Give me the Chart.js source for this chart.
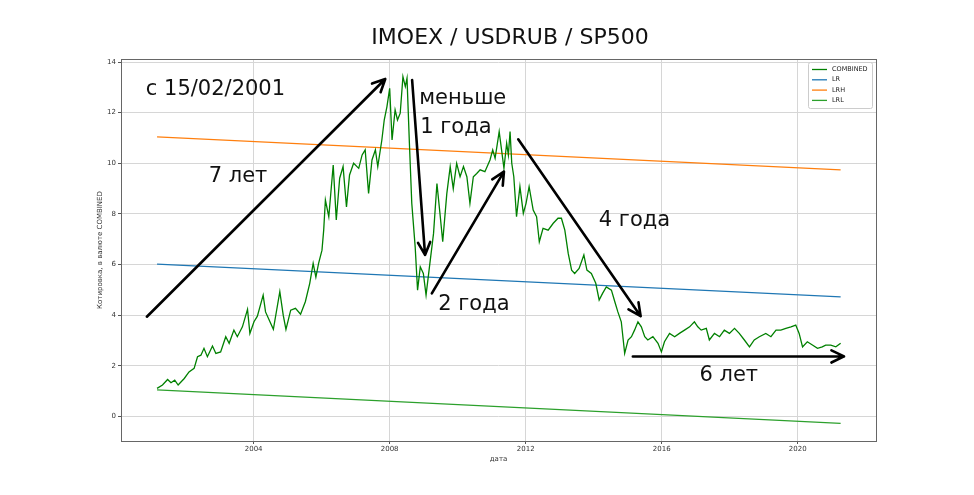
<!DOCTYPE html>
<html>
<head>
<meta charset="utf-8">
<script src="https://cdn.jsdelivr.net/npm/chart.js@4.4.0/dist/chart.umd.min.js"></script>
<style>
  html, body { margin: 0; padding: 0; background: #fff; }
</style>
</head>
<body>
<canvas id="grafico" width="974" height="495"></canvas>
<script>
// данные (годы в десятичном виде)
const combinedYears = [
  2001.16, 2001.32, 2001.47, 2001.57, 2001.68, 2001.78, 2001.96, 2002.10, 2002.25, 2002.35,
  2002.45, 2002.54, 2002.64, 2002.79, 2002.89, 2003.03, 2003.18, 2003.28, 2003.42, 2003.52,
  2003.67, 2003.82, 2003.89, 2004.01, 2004.11, 2004.28, 2004.35, 2004.48, 2004.58, 2004.77,
  2004.87, 2004.95, 2005.09, 2005.23, 2005.38, 2005.52, 2005.65, 2005.75, 2005.83, 2005.91,
  2006.01, 2006.06, 2006.11, 2006.21, 2006.34, 2006.43, 2006.53, 2006.63, 2006.73, 2006.82,
  2006.94, 2007.09, 2007.19, 2007.28, 2007.38, 2007.48, 2007.58, 2007.65, 2007.77, 2007.84,
  2007.92, 2008.00, 2008.07, 2008.16, 2008.23, 2008.31, 2008.39, 2008.46, 2008.51, 2008.58,
  2008.65, 2008.75, 2008.82, 2008.90, 2008.99, 2009.07, 2009.17, 2009.29, 2009.39, 2009.48,
  2009.56, 2009.68, 2009.78, 2009.87, 2009.97, 2010.07, 2010.17, 2010.27, 2010.36, 2010.46,
  2010.56, 2010.66, 2010.80, 2010.95, 2011.03, 2011.10, 2011.22, 2011.29, 2011.36, 2011.44,
  2011.49, 2011.54, 2011.59, 2011.65, 2011.73, 2011.83, 2011.93, 2012.01, 2012.10, 2012.22,
  2012.32, 2012.40, 2012.51, 2012.66, 2012.81, 2012.95, 2013.05, 2013.15, 2013.25, 2013.35,
  2013.44, 2013.57, 2013.71, 2013.80, 2013.93, 2014.06, 2014.16, 2014.26, 2014.37, 2014.52,
  2014.62, 2014.71, 2014.81, 2014.91, 2015.01, 2015.11, 2015.20, 2015.30, 2015.40, 2015.50,
  2015.59, 2015.74, 2015.89, 2015.99, 2016.08, 2016.23, 2016.38, 2016.52, 2016.67, 2016.82,
  2016.96, 2017.06, 2017.16, 2017.31, 2017.40, 2017.55, 2017.70, 2017.84, 2017.99, 2018.14,
  2018.28, 2018.43, 2018.58, 2018.72, 2018.87, 2019.06, 2019.21, 2019.36, 2019.50, 2019.65,
  2019.80, 2019.94, 2020.04, 2020.14, 2020.28, 2020.43, 2020.58, 2020.72, 2020.82, 2020.97,
  2021.12, 2021.26
];
const combinedValues = [
  1.11, 1.24, 1.46, 1.33, 1.43, 1.24, 1.50, 1.76, 1.90, 2.36,
  2.42, 2.69, 2.36, 2.78, 2.49, 2.55, 3.15, 2.89, 3.41, 3.15,
  3.54, 4.23, 3.28, 3.74, 3.96, 4.79, 4.13, 3.74, 3.44, 4.93,
  4.00, 3.44, 4.20, 4.27, 4.04, 4.53, 5.26, 6.05, 5.50, 6.05,
  6.57, 7.36, 8.55, 7.89, 9.93, 7.76, 9.41, 9.87, 8.28, 9.54,
  10.00, 9.80, 10.33, 10.53, 8.81, 10.13, 10.53, 9.87, 10.92, 11.71,
  12.24, 12.96, 10.92, 12.11, 11.71, 11.98, 13.42, 13.03, 13.36, 10.79,
  8.42, 6.70, 4.99, 5.91, 5.65, 4.79, 5.91, 7.23, 9.20, 8.00,
  6.90, 8.80, 9.87, 9.00, 10.00, 9.47, 9.87, 9.47, 8.42, 9.47,
  9.60, 9.74, 9.67, 10.13, 10.53, 10.20, 11.25, 10.53, 9.80, 10.79,
  10.33, 11.25, 10.00, 9.47, 7.89, 9.08, 8.02, 8.42, 9.08, 8.15,
  7.89, 6.90, 7.43, 7.36, 7.63, 7.83, 7.83, 7.36, 6.44, 5.78,
  5.65, 5.85, 6.38, 5.78, 5.65, 5.26, 4.60, 4.86, 5.12, 4.99,
  4.53, 4.13, 3.74, 2.49, 3.02, 3.15, 3.41, 3.74, 3.54, 3.15,
  3.02, 3.15, 2.89, 2.55, 2.95, 3.28, 3.15, 3.28, 3.41, 3.54,
  3.74, 3.54, 3.41, 3.48, 3.02, 3.28, 3.15, 3.41, 3.28, 3.48,
  3.28, 3.02, 2.75, 3.02, 3.15, 3.28, 3.15, 3.41, 3.41, 3.48,
  3.54, 3.61, 3.28, 2.75, 2.95, 2.82, 2.69, 2.75, 2.82, 2.82,
  2.75, 2.89
];

// линии регрессии: начало и конец
const trendYears = [2001.16, 2021.26];
const lrValues = [6.02, 4.72];
const lrhValues = [11.04, 9.74];
const lrlValues = [1.05, -0.27];

const xTicks = [2004, 2008, 2012, 2016, 2020];
const yTicks = [0, 2, 4, 6, 8, 10, 12, 14];

// стрелки и подписи поверх графика (в единицах осей)
const arrows = [
  { from: [2000.86, 3.94], to: [2007.87, 13.33] },
  { from: [2008.66, 13.29], to: [2009.04, 6.38] },
  { from: [2009.24, 4.86], to: [2011.36, 9.67] },
  { from: [2011.78, 10.95], to: [2015.38, 3.96] },
  { from: [2015.15, 2.37], to: [2021.36, 2.37] }
];
const notes = [
  { text: 'с 15/02/2001', at: [2000.83, 12.9] },
  { text: '7 лет', at: [2002.68, 9.46] },
  { text: 'меньше', at: [2008.87, 12.54] },
  { text: '1 года', at: [2008.90, 11.43] },
  { text: '2 года', at: [2009.43, 4.44] },
  { text: '4 года', at: [2014.15, 7.72] },
  { text: '6 лет', at: [2017.11, 1.63] }
];

const toPoints = (xs, ys) => xs.map((x, i) => ({ x: x, y: ys[i] }));

const overlay = {
  id: 'overlay',
  afterDraw(chart) {
    const { ctx, chartArea: a, scales: { x, y } } = chart;
    ctx.save();

    // рамка
    ctx.strokeStyle = '#666';
    ctx.lineWidth = 1;
    ctx.strokeRect(a.left + 0.5, a.top + 0.5, a.right - a.left, a.bottom - a.top);

    // заголовок
    ctx.fillStyle = '#111';
    ctx.font = '22px "DejaVu Sans"';
    ctx.textAlign = 'center';
    ctx.textBaseline = 'middle';
    ctx.fillText('IMOEX / USDRUB / SP500', 510, 38);

    // легенда
    const lx = 808, ly = 62;
    ctx.fillStyle = '#fff';
    ctx.strokeStyle = '#ccc';
    ctx.beginPath();
    ctx.roundRect(lx + 0.5, ly + 0.5, 64, 46, 2);
    ctx.fill();
    ctx.stroke();
    ctx.font = '6.5px "DejaVu Sans"';
    ctx.textAlign = 'left';
    chart.data.datasets.forEach((ds, i) => {
      const yy = ly + 7.5 + i * 10.3;
      ctx.strokeStyle = ds.borderColor;
      ctx.lineWidth = 1.3;
      ctx.beginPath();
      ctx.moveTo(lx + 4, yy);
      ctx.lineTo(lx + 19, yy);
      ctx.stroke();
      ctx.fillStyle = '#222';
      ctx.fillText(ds.label, lx + 24, yy);
    });

    // стрелки
    ctx.strokeStyle = '#000';
    ctx.lineWidth = 2.6;
    ctx.lineCap = 'round';
    ctx.lineJoin = 'round';
    arrows.forEach(ar => {
      const x1 = x.getPixelForValue(ar.from[0]), y1 = y.getPixelForValue(ar.from[1]);
      const x2 = x.getPixelForValue(ar.to[0]), y2 = y.getPixelForValue(ar.to[1]);
      const ang = Math.atan2(y2 - y1, x2 - x1);
      const len = 14, spread = 0.45;
      ctx.beginPath();
      ctx.moveTo(x1, y1);
      ctx.lineTo(x2, y2);
      ctx.moveTo(x2 - len * Math.cos(ang - spread), y2 - len * Math.sin(ang - spread));
      ctx.lineTo(x2, y2);
      ctx.lineTo(x2 - len * Math.cos(ang + spread), y2 - len * Math.sin(ang + spread));
      ctx.stroke();
    });

    // подписи
    ctx.fillStyle = '#111';
    ctx.font = '21px "DejaVu Sans"';
    ctx.textAlign = 'left';
    ctx.textBaseline = 'middle';
    notes.forEach(n => {
      ctx.fillText(n.text, x.getPixelForValue(n.at[0]), y.getPixelForValue(n.at[1]));
    });

    ctx.restore();
  }
};

const ctx = document.getElementById('grafico').getContext('2d');
new Chart(ctx, {
  type: 'line',
  data: {
    datasets: [
      { label: 'COMBINED', data: toPoints(combinedYears, combinedValues), borderColor: '#008000', borderWidth: 1.3, pointRadius: 0, tension: 0 },
      { label: 'LR', data: toPoints(trendYears, lrValues), borderColor: '#1f77b4', borderWidth: 1.2, pointRadius: 0 },
      { label: 'LRH', data: toPoints(trendYears, lrhValues), borderColor: '#ff7f0e', borderWidth: 1.2, pointRadius: 0 },
      { label: 'LRL', data: toPoints(trendYears, lrlValues), borderColor: '#2ca02c', borderWidth: 1.2, pointRadius: 0 }
    ]
  },
  options: {
    responsive: false,
    animation: false,
    layout: { padding: { left: 92, right: 98, top: 59, bottom: 30 } },
    plugins: {
      legend: { display: false },
      tooltip: { enabled: false }
    },
    scales: {
      x: {
        type: 'linear',
        min: 2000.1,
        max: 2022.3,
        afterBuildTicks: s => { s.ticks = xTicks.map(v => ({ value: v })); },
        afterFit: s => { s.height = 24; },
        ticks: { callback: v => String(v), color: '#333', font: { family: 'DejaVu Sans', size: 7 }, padding: 1, maxRotation: 0 },
        grid: { color: '#d6d6d6', tickColor: '#555', tickLength: 3 },
        border: { display: false },
        title: { display: true, text: 'дата', color: '#333', font: { family: 'DejaVu Sans', size: 7 }, padding: { top: 0, bottom: 2 } }
      },
      y: {
        min: -0.97,
        max: 14.12,
        afterBuildTicks: s => { s.ticks = yTicks.map(v => ({ value: v })); },
        afterFit: s => { s.width = 29; },
        ticks: { callback: v => String(v), color: '#333', font: { family: 'DejaVu Sans', size: 7 }, padding: 2 },
        grid: { color: '#d6d6d6', tickColor: '#555', tickLength: 3 },
        border: { display: false },
        title: { display: true, text: 'Котировка, в валюте COMBINED', color: '#333', font: { family: 'DejaVu Sans', size: 7 }, padding: 4 }
      }
    }
  },
  plugins: [overlay]
});
</script>
</body>
</html>
